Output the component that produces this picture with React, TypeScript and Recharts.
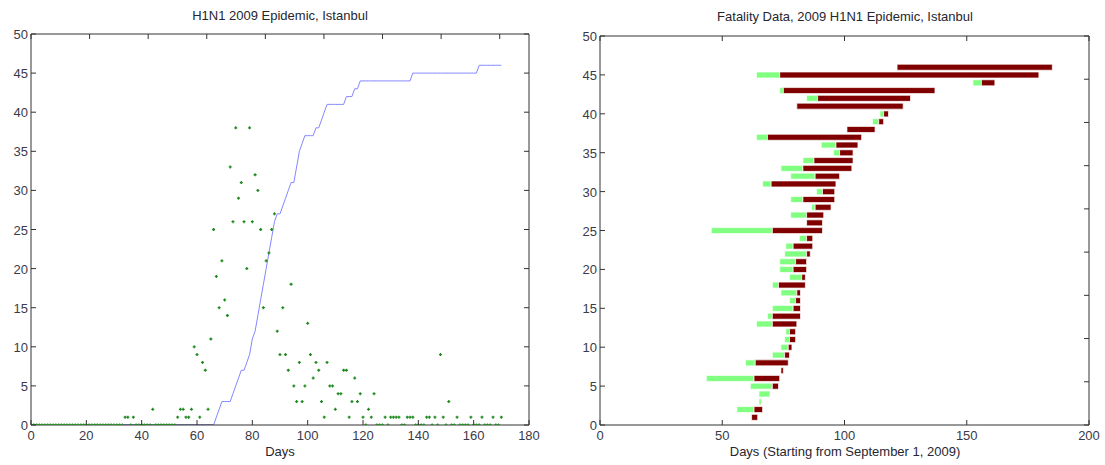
import React from 'react';
import { ComposedChart, Line, Scatter, Bar, XAxis, YAxis } from 'recharts';

// daily new cases, day 0 .. 170
const CASES = [
  0, 0, 0, 0, 0, 0, 0, 0, 0, 0,
  0, 0, 0, 0, 0, 0, 0, 0, 0, 0,
  0, 0, 0, 0, 0, 0, 0, 0, 0, 0,
  0, 0, 0, 0, 1, 1, 0, 1, 0, 0,
  0, 0, 0, 0, 2, 0, 0, 0, 0, 0,
  0, 0, 0, 1, 2, 2, 1, 1, 2, 10,
  9, 1, 8, 7, 2, 11, 25, 19, 15, 21,
  16, 14, 33, 26, 38, 29, 31, 26, 20, 38,
  26, 32, 30, 25, 15, 21, 22, 25, 27, 12,
  9, 15, 9, 7, 18, 5, 3, 8, 3, 5,
  13, 9, 6, 8, 7, 3, 1, 8, 5, 5,
  2, 4, 4, 7, 7, 1, 3, 6, 3, 4,
  1, 0, 2, 1, 4, 0, 0, 0, 1, 0,
  1, 1, 1, 1, 0, 0, 1, 1, 1, 0,
  0, 0, 0, 1, 1, 0, 1, 0, 9, 1,
  0, 3, 0, 0, 1, 0, 0, 0, 0, 1,
  0, 0, 0, 1, 0, 0, 0, 1, 0, 0,
  1,
];

// cumulative deaths, starting at day 33
const CUM_START = 33;
const CUMULATIVE = [
  0, 0, 0, 0, 0, 0, 0, 0, 0, 0, 0, 0, 0, 0, 0, 0, 0,
  0, 0, 0, 0, 0, 0, 0, 0, 0, 0, 0, 0, 0, 0, 0, 0, 0,
  1, 2, 3, 3, 3, 3, 4, 5, 6, 7,
  7, 8, 9, 11, 12, 14, 16, 18, 20, 22,
  24, 26, 27, 27, 28, 29, 30, 31, 31, 33,
  35, 36, 37, 37, 37, 37, 38, 38, 39, 40,
  41, 41, 41, 41, 41, 41, 41, 42, 42, 42,
  43, 43, 44, 44, 44, 44, 44, 44, 44, 44,
  44, 44, 44, 44, 44, 44, 44, 44, 44, 44,
  44,
  45, 45, 45, 45, 45, 45, 45, 45, 45, 45, 45, 45,
  45, 45, 45, 45, 45, 45, 45, 45, 45, 45, 45, 45,
  46, 46, 46, 46, 46, 46, 46, 46, 46,
];
const ZERO_END = 66;

// fatality rows 1..46: symptom onset, hospital admission, death
const ONSET = [62, 56, 65, 65, 61.5, 43.5, 74, 59.5, 70.5, 74, 75.5, 76, 64, 68.5, 70.5, 77.5, 74, 70.5, 77.5, 73.5, 73.5, 75.5, 76, 81.5, 45.5, 84.5, 78, 86.5, 78, 88.5, 66.5, 78, 74, 83, 95.5, 90.5, 64, 101, 111.5, 114.5, 80.5, 84.5, 73.5, 152.5, 64, 121.5];
const ADMIT = [62, 63, 66, 69.5, 70.5, 63, 74, 63.5, 75.5, 77, 77.5, 77.5, 70.5, 70.5, 79, 80, 80.5, 73, 82.5, 79, 80, 84.5, 79, 84.5, 70.5, 84.5, 84.5, 88, 83, 91, 70, 88, 83, 87.5, 98, 96.5, 68.5, 101, 114, 116, 80.5, 89, 75, 156, 73.5, 121.5];
const DEATH = [64.5, 66.5, 66, 69.5, 73, 73.5, 75, 77, 77.5, 78.5, 80, 80, 80.5, 82, 82, 82, 82, 84, 84, 84.5, 84.5, 86, 87, 87, 91, 91, 91.5, 94.5, 96, 96, 96.5, 98, 103, 103.5, 103.5, 105.5, 107, 112.5, 116, 118, 124, 127, 137, 161.5, 179.5, 185];

const DAY_TICKS = [0, 20, 40, 60, 80, 100, 120, 140, 160, 180];
const DATE_TICKS = [0, 50, 100, 150, 200];
const Y_TICKS = [0, 5, 10, 15, 20, 25, 30, 35, 40, 45, 50];

const FONT = '"Liberation Sans", Arial, sans-serif';
const INK = '#333';
const LABEL = '#3a3a48';
const GREEN = '#1f8a1f';

const epidemic = CASES.map((v, day) => {
  const c = day >= CUM_START ? CUMULATIVE[day - CUM_START] : null;
  return {
    day,
    cases: v,
    cum: c != null && day >= ZERO_END ? c : null,
    cumZero: c != null && day <= ZERO_END ? c : null,
  };
});

const fatalities = ONSET.map((o, i) => ({
  row: i + 1,
  offset: o,
  ill: ADMIT[i] - o,
  hosp: DEATH[i] - ADMIT[i],
}));

function BottomTick({ x, y, payload }: any) {
  return (
    <g>
      <line x1={x} y1={y} x2={x} y2={y - 5} stroke={INK} />
      <text x={x} y={y + 15} textAnchor="middle" fontSize={13} fill={LABEL} fontFamily={FONT}>
        {payload.value}
      </text>
    </g>
  );
}

function TopTick({ x, y }: any) {
  return <line x1={x} y1={y} x2={x} y2={y + 5} stroke={INK} />;
}

function LeftTick({ x, y, payload }: any) {
  return (
    <g>
      <line x1={x} y1={y} x2={x + 5} y2={y} stroke={INK} />
      <text x={x - 3} y={y + 5} textAnchor="end" fontSize={13} fill={LABEL} fontFamily={FONT}>
        {payload.value}
      </text>
    </g>
  );
}

function RightTick({ x, y }: any) {
  return <line x1={x} y1={y} x2={x - 5} y2={y} stroke={INK} />;
}

function PlusDot({ cx, cy }: any) {
  if (cx == null || cy == null) return null;
  return (
    <path
      d={`M${cx - 1.5},${cy}H${cx + 1.5}M${cx},${cy - 1.5}V${cy + 1.5}`}
      stroke={GREEN}
      strokeWidth={1.3}
    />
  );
}

const axisLine = { stroke: INK, strokeWidth: 1 };

// shared props for the four box axes (ticks are drawn inwards by the custom tick)
const boxAxis = {
  tickSize: 0,
  tickMargin: 0,
  axisLine,
  tickLine: false,
  interval: 0 as const,
  allowDataOverflow: true,
};

const textStyle: React.CSSProperties = {
  position: 'absolute',
  textAlign: 'center',
  fontFamily: FONT,
  color: '#262630',
  whiteSpace: 'nowrap',
};

export default function App() {
  return (
    <div style={{ position: 'absolute', left: 0, top: 0, width: 1105, height: 465, background: '#fff' }}>
      <div style={{ ...textStyle, left: 30, width: 500, top: 8, fontSize: 13 }}>H1N1 2009 Epidemic, Istanbul</div>
      <div style={{ ...textStyle, left: 30, width: 500, top: 444, fontSize: 13 }}>Days</div>
      <div style={{ ...textStyle, left: 600, width: 490, top: 9, fontSize: 13 }}>
        Fatality Data, 2009 H1N1 Epidemic, Istanbul
      </div>
      <div style={{ ...textStyle, left: 600, width: 490, top: 444, fontSize: 13 }}>
        Days (Starting from September 1, 2009)
      </div>

      <div style={{ position: 'absolute', left: 0, top: 0 }}>
        <ComposedChart
          width={550}
          height={465}
          data={epidemic}
          margin={{ top: 33, right: 20, bottom: 39, left: 30 }}
        >
          <XAxis
            {...boxAxis}
            dataKey="day"
            type="number"
            domain={[0, 180]}
            ticks={DAY_TICKS}
            height={1}
            tick={<BottomTick />}
          />
          <XAxis
            {...boxAxis}
            xAxisId="top"
            orientation="top"
            type="number"
            domain={[0, 180]}
            ticks={DAY_TICKS}
            height={1}
            tick={<TopTick />}
          />
          <YAxis
            {...boxAxis}
            type="number"
            domain={[0, 50]}
            ticks={Y_TICKS}
            width={1}
            tick={<LeftTick />}
          />
          <YAxis
            {...boxAxis}
            yAxisId="right"
            orientation="right"
            type="number"
            domain={[0, 50]}
            ticks={Y_TICKS}
            width={1}
            tick={<RightTick />}
          />
          <Scatter dataKey="cases" shape={<PlusDot />} isAnimationActive={false} />
          <Line
            type="linear"
            dataKey="cumZero"
            stroke="#2020a8"
            strokeWidth={1.2}
            dot={false}
            isAnimationActive={false}
          />
          <Line
            type="linear"
            dataKey="cum"
            stroke="#8686ff"
            strokeWidth={1}
            dot={false}
            isAnimationActive={false}
          />
        </ComposedChart>
      </div>

      <div style={{ position: 'absolute', left: 560, top: 0 }}>
        <ComposedChart
          width={545}
          height={465}
          layout="vertical"
          data={fatalities}
          margin={{ top: 35, right: 15, bottom: 39, left: 39 }}
        >
          <XAxis
            {...boxAxis}
            type="number"
            domain={[0, 200]}
            ticks={DATE_TICKS}
            height={1}
            tick={<BottomTick />}
          />
          <XAxis
            {...boxAxis}
            xAxisId="top"
            orientation="top"
            type="number"
            domain={[0, 200]}
            ticks={DATE_TICKS}
            height={1}
            tick={<TopTick />}
          />
          <YAxis
            {...boxAxis}
            dataKey="row"
            type="number"
            domain={[0, 50]}
            ticks={Y_TICKS}
            reversed
            width={1}
            tick={<LeftTick />}
          />
          <YAxis
            {...boxAxis}
            yAxisId="right"
            orientation="right"
            type="number"
            domain={[0, 50]}
            ticks={Y_TICKS}
            reversed
            width={1}
            tick={<RightTick />}
          />
          <Bar dataKey="offset" stackId="f" fill="none" barSize={6} isAnimationActive={false} />
          <Bar
            dataKey="ill"
            stackId="f"
            fill="#80ff80"
            stroke="#fff"
            strokeWidth={0.7}
            barSize={6}
            isAnimationActive={false}
          />
          <Bar
            dataKey="hosp"
            stackId="f"
            fill="#800000"
            stroke="#fff"
            strokeWidth={0.7}
            barSize={6}
            isAnimationActive={false}
          />
        </ComposedChart>
      </div>
    </div>
  );
}
